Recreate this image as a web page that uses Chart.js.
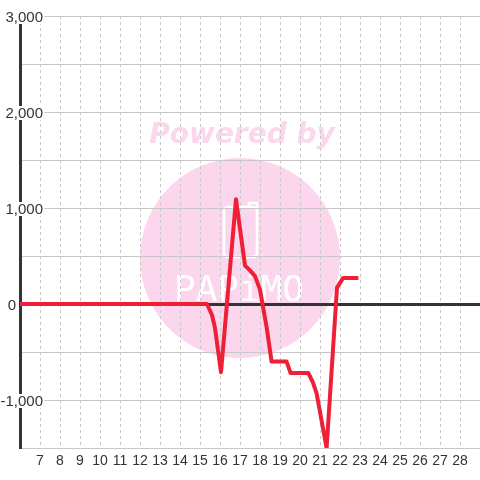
<!DOCTYPE html>
<html>
<head>
<meta charset="utf-8">
<script src="https://cdn.jsdelivr.net/npm/chart.js@4/dist/chart.umd.min.js"></script>
<style>
  html, body { margin: 0; padding: 0; background: #fff; }
  #wrap { width: 480px; height: 480px; }
</style>
</head>
<body>
<div id="wrap"><canvas id="balanceChart"></canvas></div>
<script>
// day of month (x) and value (y)
var days = [6, 15.35, 15.6, 15.75, 16.05, 16.8, 17.25, 17.5, 17.75, 18.0, 18.33, 18.58, 19.33, 19.53, 20.42, 20.65, 20.83, 21.33, 21.85, 22.15, 22.92];
var values = [0, 0, -115, -250, -710, 1090, 400, 350, 290, 150, -240, -600, -600, -720, -720, -820, -930, -1500, 170, 270, 270];
var xTicks = [7, 8, 9, 10, 11, 12, 13, 14, 15, 16, 17, 18, 19, 20, 21, 22, 23, 24, 25, 26, 27, 28];
var yTicks = [3000, 2000, 1000, 0, -1000];

var points = days.map(function (d, i) { return { x: d, y: values[i] }; });

var watermark = {
    id: 'watermark',
    beforeDraw: function (chart) {
        var c = chart.ctx;
        c.save();
        c.fillStyle = '#ffffff';
        c.fillRect(0, 0, chart.width, chart.height);
        c.fillStyle = '#fcd6ec';
        c.beginPath();
        c.arc(240, 258, 100, 0, Math.PI * 2);
        c.fill();
        c.font = 'italic bold 28px "DejaVu Sans"';
        c.textAlign = 'center';
        c.textBaseline = 'alphabetic';
        c.fillText('Powered by', 242, 143);
        c.strokeStyle = '#ffffff';
        c.lineWidth = 2.5;
        c.beginPath();
        c.roundRect(224, 207, 33, 50, 4);
        c.stroke();
        c.beginPath();
        c.moveTo(249, 207);
        c.lineTo(249, 203);
        c.lineTo(257, 203);
        c.lineTo(257, 210);
        c.stroke();
        c.fillStyle = '#ffffff';
        c.font = '36px "DejaVu Sans Mono"';
        c.fillText('PAPiMO', 239, 301);
        c.restore();
    }
};

var yLabels = {
    id: 'yLabels',
    beforeDatasetsDraw: function (chart) {
        var c = chart.ctx;
        var scale = chart.scales.y;
        c.save();
        c.font = '15px "Liberation Sans"';
        c.textAlign = 'right';
        c.textBaseline = 'alphabetic';
        yTicks.forEach(function (v) {
            var y = scale.getPixelForValue(v);
            var text = v.toLocaleString('en-US');
            var right = v === 0 ? 16 : 43;
            var w = c.measureText(text).width;
            c.fillStyle = '#ffffff';
            c.fillRect(right - w - 1, y - 6, w + 2, 14);
            c.fillStyle = '#333333';
            c.fillText(text, right, y + 6);
        });
        c.restore();
    }
};

var ctx = document.getElementById('balanceChart').getContext('2d');
var balanceChart = new Chart(ctx, {
    type: 'line',
    data: {
        datasets: [{
            data: points,
            borderColor: '#ee1f36',
            borderWidth: 4,
            borderJoinStyle: 'round',
            pointRadius: 0,
            tension: 0,
            fill: false
        }]
    },
    options: {
        responsive: true,
        maintainAspectRatio: false,
        animation: false,
        layout: { padding: { top: 16, left: 0, right: 0, bottom: 0 } },
        scales: {
            x: {
                type: 'linear',
                min: 6,
                max: 29,
                afterFit: function (scale) { scale.height = 32; },
                afterBuildTicks: function (scale) {
                    scale.ticks = xTicks.map(function (v) { return { value: v }; });
                },
                ticks: {
                    stepSize: 1,
                    autoSkip: false,
                    maxRotation: 0,
                    padding: 5,
                    color: '#333',
                    font: { family: 'Liberation Sans', size: 14 }
                },
                grid: { color: '#c8c8c8', lineWidth: 1, drawTicks: false },
                border: { display: false, dash: [3, 3] }
            },
            y: {
                min: -1500,
                max: 3000,
                afterFit: function (scale) { scale.width = 20; },
                ticks: { stepSize: 500, display: false },
                grid: {
                    drawTicks: false,
                    color: function (c) { return c.tick && c.tick.value === 0 ? '#333' : '#c8c8c8'; },
                    lineWidth: function (c) { return c.tick && c.tick.value === 0 ? 3 : 1; }
                },
                border: { display: true, color: '#333', width: 3 }
            }
        },
        plugins: {
            legend: { display: false },
            tooltip: { enabled: false }
        }
    },
    plugins: [watermark, yLabels]
});
</script>
</body>
</html>
